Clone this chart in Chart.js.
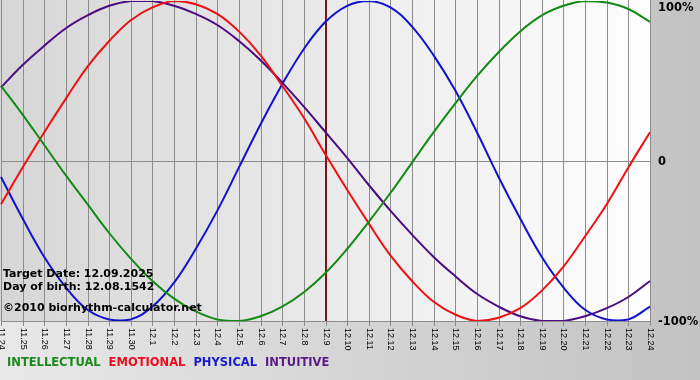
<!DOCTYPE html>
<html><head><meta charset="utf-8">
<script src="https://cdn.jsdelivr.net/npm/chart.js@4"></script>
<style>html,body{margin:0;padding:0;background:#fff;overflow:hidden}canvas{display:block}</style>
</head><body>
<canvas id="c" width="700" height="380"></canvas>
<script>
const dayLabels = ['11.24','11.25','11.26','11.27','11.28','11.29','11.30','12.1','12.2','12.3','12.4','12.5','12.6','12.7','12.8','12.9','12.10','12.11','12.12','12.13','12.14','12.15','12.16','12.17','12.18','12.19','12.20','12.21','12.22','12.23','12.24'];
const intellectual = [47,29,10,-9,-27,-45,-61,-75,-86,-94,-99,-100,-97,-91,-82,-70,-55,-38,-20,-1,18,36,53,68,81,91,97,100,99,95,87];
const emotional = [-27,-4,18,39,59,75,88,96,100,98,92,81,66,47,27,4,-18,-39,-59,-75,-88,-96,-100,-98,-92,-81,-66,-47,-27,-4,18];
const physical = [-10,-36,-60,-79,-93,-99,-99,-91,-76,-55,-31,-4,23,48,70,87,97,100,96,84,66,44,18,-10,-36,-60,-79,-93,-99,-99,-91];
const intuitive = [46,60,72,83,91,97,100,100,97,92,85,75,63,49,34,18,2,-15,-31,-46,-60,-72,-83,-91,-97,-100,-100,-97,-92,-85,-75];
const yTickValues = [100, 0, -100];
const yTickLabels = ['100%', '0', '-100%'];
const targetDay = '12.9';
const infoLines = ['Target Date: 12.09.2025', 'Day of birth: 12.08.1542', '\u00A92010 biorhythm-calculator.net'];
const legendNames = ['INTELLECTUAL', 'EMOTIONAL', 'PHYSICAL', 'INTUITIVE'];

const lineColors = ['#138a13', '#ee1111', '#1212cc', '#4b0c82'];
const legendColors = ['#1a8a1a', '#e8101e', '#1a1acd', '#5a1a8a'];

const decor = {
  id: 'decor',
  beforeDraw(chart) {
    const ctx = chart.ctx;
    const {left, top, right, bottom} = chart.chartArea;
    const xs = chart.scales.x, ys = chart.scales.y;
    ctx.save();
    // canvas background
    let g = ctx.createLinearGradient(0, 0, 700, 0);
    g.addColorStop(0, '#e8e8e8');
    g.addColorStop(1, '#c2c2c2');
    ctx.fillStyle = g;
    ctx.fillRect(0, 0, chart.width, chart.height);
    // plot background
    g = ctx.createLinearGradient(left, 0, right, 0);
    g.addColorStop(0, '#d6d6d6');
    g.addColorStop(1, '#fefefe');
    ctx.fillStyle = g;
    ctx.fillRect(left - 1, 0, right - left + 1, bottom);
    // vertical grid + ticks
    ctx.strokeStyle = '#8c8c8c';
    ctx.lineWidth = 1;
    dayLabels.forEach((lab, i) => {
      const x = Math.round(xs.getPixelForValue(i)) + 0.5;
      ctx.beginPath();
      ctx.moveTo(x, 0);
      ctx.lineTo(x, bottom + 5);
      ctx.stroke();
    });
    // zero line and bottom line
    [0, -100].forEach(v => {
      const y = Math.round(ys.getPixelForValue(v)) + 0.5;
      ctx.beginPath();
      ctx.moveTo(left, y);
      ctx.lineTo(right, y);
      ctx.stroke();
    });
    // x tick labels rotated clockwise
    ctx.fillStyle = '#000';
    ctx.font = '9px "Liberation Sans", Arial, sans-serif';
    ctx.textAlign = 'left';
    ctx.textBaseline = 'middle';
    dayLabels.forEach((lab, i) => {
      const x = Math.round(xs.getPixelForValue(i)) + 0.5;
      ctx.save();
      ctx.translate(x, bottom + 7);
      ctx.rotate(Math.PI / 2);
      ctx.fillText(lab, 0, 0);
      ctx.restore();
    });
    // y labels on the right
    ctx.font = 'bold 11.5px "DejaVu Sans", Verdana, sans-serif';
    ctx.textBaseline = 'middle';
    yTickValues.forEach((v, i) => {
      let y = ys.getPixelForValue(v) + 1;
      if (y < 8) y = 8;
      ctx.fillText(yTickLabels[i], right + 8, y);
    });
    // target line
    const tx = Math.round(xs.getPixelForValue(dayLabels.indexOf(targetDay)));
    ctx.fillStyle = '#7d1616';
    ctx.fillRect(tx - 1, 0, 2, bottom);
    ctx.restore();
  },
  afterDatasetsDraw(chart) {
    const ctx = chart.ctx;
    ctx.save();
    ctx.fillStyle = '#000';
    ctx.font = 'bold 11px "DejaVu Sans", Verdana, sans-serif';
    ctx.textAlign = 'left';
    ctx.textBaseline = 'alphabetic';
    const ys = [277, 290, 311];
    infoLines.forEach((t, i) => ctx.fillText(t, 3, ys[i]));
    ctx.font = 'bold 11.5px "DejaVu Sans", Verdana, sans-serif';
    let x = 7;
    legendNames.forEach((t, i) => {
      ctx.fillStyle = legendColors[i];
      ctx.fillText(t, x, 366);
      x += ctx.measureText(t).width + 8;
    });
    ctx.restore();
  }
};

new Chart(document.getElementById('c'), {
  type: 'line',
  data: {
    labels: dayLabels,
    datasets: [
      {label: legendNames[0], data: intellectual, borderColor: lineColors[0]},
      {label: legendNames[1], data: emotional, borderColor: lineColors[1]},
      {label: legendNames[2], data: physical, borderColor: lineColors[2]},
      {label: legendNames[3], data: intuitive, borderColor: lineColors[3]}
    ].map(d => Object.assign(d, {borderWidth: 2, pointRadius: 0, fill: false, tension: 0.4}))
  },
  options: {
    responsive: false,
    devicePixelRatio: 1,
    animation: false,
    layout: {padding: {left: 1, top: 1, right: 50, bottom: 59}},
    plugins: {legend: {display: false}, tooltip: {enabled: false}},
    scales: {
      x: {type: 'category', offset: false, display: false},
      y: {min: -100, max: 100, display: false}
    }
  },
  plugins: [decor]
});
</script>
</body></html>
